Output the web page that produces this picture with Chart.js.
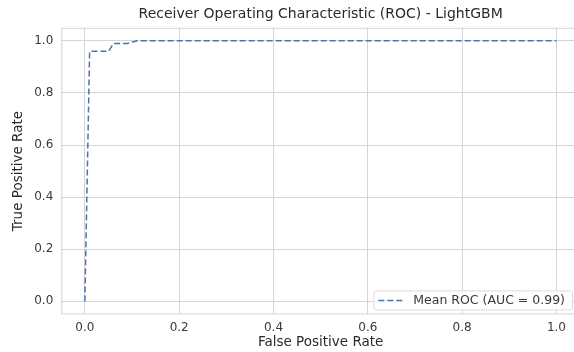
<!DOCTYPE html>
<html>
<head>
<meta charset="utf-8">
<script src="https://cdn.jsdelivr.net/npm/chart.js@4.4.1/dist/chart.umd.min.js"></script>
<style>
  html, body { margin: 0; padding: 0; background: #fff; overflow: hidden; }
  /* the reference figure is cut off a few pixels past the right frame */
  #wrap { width: 581px; height: 352px; }
</style>
</head>
<body>
<div id="wrap"><canvas id="chart"></canvas></div>
<script>
// mean ROC curve
var fpr = [0, 0.0101, 0.0505, 0.0606, 0.0909, 0.1111, 1.0];
var tpr = [0, 0.96, 0.96, 0.99, 0.99, 1.0, 1.0];
var tickValues = [0, 0.2, 0.4, 0.6, 0.8, 1.0];
var seriesLabel = 'Mean ROC (AUC = 0.99)';

var lineColor = '#4c72b0';
var gridColor = '#d5d5d5';
var textColor = '#3a3a3a';
var font = 'DejaVu Sans';

var points = fpr.map(function (x, i) { return { x: x, y: tpr[i] }; });

// frame around the plot + legend in the lower right corner
var framePlugin = {
    id: 'frame',
    afterDraw: function (chart) {
        var a = chart.chartArea;
        var c = chart.ctx;
        c.save();
        c.strokeStyle = gridColor;
        c.lineWidth = 1;
        c.strokeRect(a.left + 0.5, a.top + 0.5, a.right - a.left - 1, a.bottom - a.top - 1);

        c.font = '12.5px ' + font;
        var tw = c.measureText(seriesLabel).width;
        var bw = tw + 47, bh = 19;
        var bx = a.right - bw - 8, by = a.bottom - bh - 5;
        c.fillStyle = 'rgba(255,255,255,0.85)';
        c.strokeStyle = '#dcdcdc';
        c.beginPath();
        c.roundRect(bx + 0.5, by + 0.5, bw, bh, 3);
        c.fill();
        c.stroke();
        c.strokeStyle = lineColor;
        c.lineWidth = 1.5;
        c.setLineDash([6, 3]);
        c.beginPath();
        c.moveTo(bx + 5, by + bh / 2 + 0.5);
        c.lineTo(bx + 31, by + bh / 2 + 0.5);
        c.stroke();
        c.setLineDash([]);
        c.fillStyle = textColor;
        c.textBaseline = 'middle';
        c.fillText(seriesLabel, bx + 40, by + bh / 2 + 1);
        c.restore();
    }
};

var ctx = document.getElementById('chart');
var myChart = new Chart(ctx, {
    type: 'scatter',
    data: {
        datasets: [{
            label: seriesLabel,
            data: points,
            showLine: true,
            borderColor: lineColor,
            backgroundColor: lineColor,
            borderWidth: 1.5,
            borderDash: [6, 3],
            pointRadius: 0,
            tension: 0
        }]
    },
    options: {
        responsive: true,
        maintainAspectRatio: false,
        animation: false,
        layout: {
            padding: { left: 10, right: 1, top: 0, bottom: 1 }
        },
        plugins: {
            legend: { display: false },
            tooltip: { enabled: false },
            title: {
                display: true,
                fullSize: false,
                text: 'Receiver Operating Characteristic (ROC) - LightGBM',
                color: '#2a2a2a',
                font: { family: font, size: 14, weight: 'normal' },
                padding: { top: 6, bottom: 5 }
            }
        },
        scales: {
            x: {
                type: 'linear',
                min: -0.05,
                max: 1.05,
                afterBuildTicks: function (axis) {
                    axis.ticks = tickValues.map(function (v) { return { value: v }; });
                },
                ticks: {
                    color: textColor,
                    font: { family: font, size: 12 },
                    padding: 6,
                    maxRotation: 0,
                    callback: function (v) { return v.toFixed(1); }
                },
                grid: { color: gridColor, drawTicks: false },
                border: { display: false },
                title: {
                    display: true,
                    text: 'False Positive Rate',
                    color: '#2a2a2a',
                    font: { family: font, size: 13.5 },
                    padding: { top: -6, bottom: 0 }
                }
            },
            y: {
                type: 'linear',
                min: -0.05,
                max: 1.05,
                afterBuildTicks: function (axis) {
                    axis.ticks = tickValues.map(function (v) { return { value: v }; });
                },
                ticks: {
                    color: textColor,
                    font: { family: font, size: 12 },
                    padding: 8,
                    callback: function (v) { return v.toFixed(1); }
                },
                grid: { color: gridColor, drawTicks: false },
                border: { display: false },
                title: {
                    display: true,
                    text: 'True Positive Rate',
                    color: '#2a2a2a',
                    font: { family: font, size: 13.5 },
                    padding: { top: 0, bottom: 0 }
                }
            }
        }
    },
    plugins: [framePlugin]
});
</script>
</body>
</html>
